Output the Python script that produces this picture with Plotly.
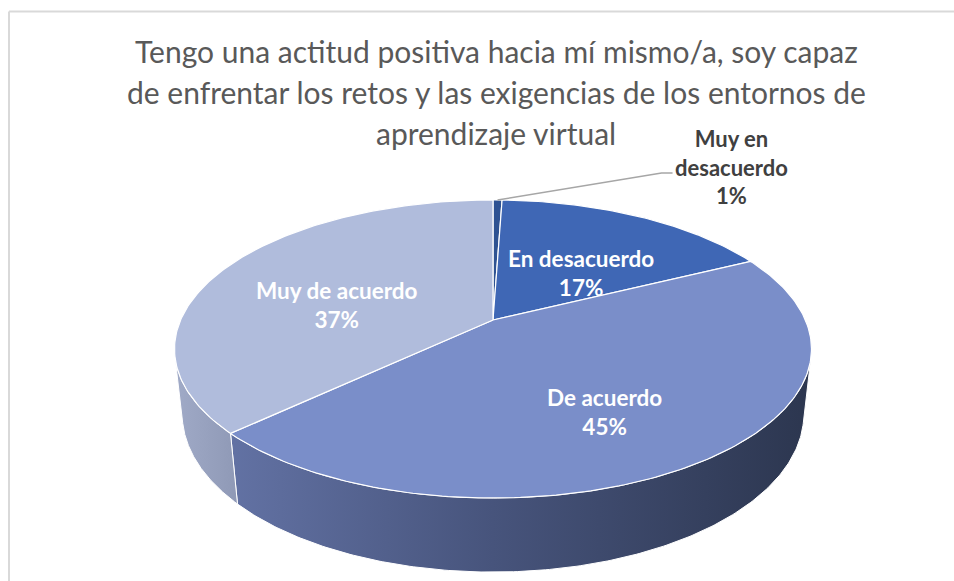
import numpy as np
import plotly.graph_objects as go

# ---------------- data ----------------
categories = ["Muy en desacuerdo", "En desacuerdo", "De acuerdo", "Muy de acuerdo"]
values = [1, 31, 82, 67]
top_colors = ["#2E5292", "#3F67B5", "#7A8EC9", "#B0BCDC"]
side_colors = [
    [[0, "#22406F"], [1, "#1A2F52"]],
    [[0, "#2F4E88"], [1, "#223A66"]],
    [[0, "#6878AC"], [0.5, "#47547C"], [1, "#2C364F"]],
    [[0, "#A0AAC7"], [0.11, "#8D97B4"], [1, "#4E566E"]],
]
label_colors = ["#404040", "white", "white", "white"]
title_lines = [
    "Tengo una actitud positiva hacia mí mismo/a, soy capaz",
    "de enfrentar los retos y las exigencias de los entornos de",
    "aprendizaje virtual",
]

# ---------------- 3D projection setup ----------------
W, H = 954, 581
CX, CY = 493, 320          # screen position of the pie centre
ELEV = np.arcsin(0.459)    # camera elevation
DIST = 4.565               # camera distance (in pie radii)
FOCAL = 1426.0             # focal length in px
THICK = 0.2365             # pie thickness (in pie radii)
ca, sa = np.cos(ELEV), np.sin(ELEV)


def project(x, y, z):
    depth = DIST + y * ca - z * sa
    up = y * sa + z * ca
    return CX + FOCAL * x / depth, CY - FOCAL * up / depth


def rim(theta, r=1.0, z=0.0):
    return project(r * np.sin(theta), r * np.cos(theta), z)


total = float(sum(values))
fracs = [v / total for v in values]
bounds = np.concatenate([[0], np.cumsum(fracs)]) * 2 * np.pi

# silhouette angles of the cylinder side
ys = -1.0 / (DIST * ca)
sil_lo, sil_hi = np.arccos(ys), 2 * np.pi - np.arccos(ys)

all_t = np.linspace(0, 2 * np.pi, 721)
xl, _ = rim(all_t)
x_left, x_right = float(xl.min()), float(xl.max())

fig = go.Figure()

# side faces
for i in range(len(values)):
    a0, a1 = bounds[i], bounds[i + 1]
    lo, hi = max(a0, sil_lo), min(a1, sil_hi)
    if hi <= lo:
        continue
    t = np.linspace(lo, hi, 200)
    xt, yt = rim(t)
    xb, yb = rim(t[::-1], z=-THICK)
    fig.add_trace(go.Scatter(
        x=np.concatenate([xt, xb, xt[:1]]),
        y=np.concatenate([yt, yb, yt[:1]]),
        mode="lines", fill="toself",
        line=dict(color="white", width=1),
        fillgradient=dict(type="horizontal", start=x_left, stop=x_right,
                          colorscale=side_colors[i]),
        hoverinfo="skip", showlegend=False))

# top faces
for i in range(len(values)):
    a0, a1 = bounds[i], bounds[i + 1]
    t = np.linspace(a0, a1, max(3, int(400 * fracs[i]) + 3))
    xt, yt = rim(t)
    fig.add_trace(go.Scatter(
        x=np.concatenate([[CX], xt, [CX]]),
        y=np.concatenate([[CY], yt, [CY]]),
        mode="lines", fill="toself", fillcolor=top_colors[i],
        line=dict(color="white", width=1.2),
        hoverinfo="skip", showlegend=False))

# labels
annotations = []
LABEL_FONT = dict(family="Lato", size=22.5, color="white")
for i in range(len(values)):
    mid = (bounds[i] + bounds[i + 1]) / 2
    pct = f"{round(fracs[i] * 100)}%"
    if fracs[i] < 0.03:
        # external label with leader line
        sx, sy = rim(mid)
        ex, ey = sx + 164, sy - 27
        fig.add_trace(go.Scatter(
            x=[sx, ex, ex + 11], y=[sy, ey, ey], mode="lines",
            line=dict(color="#A6A6A6", width=1.5),
            hoverinfo="skip", showlegend=False))
        words = categories[i].split(" ")
        txt = " ".join(words[:2]) + "<br>" + " ".join(words[2:]) + "<br>" + pct
        annotations.append(dict(
            x=ex + 70, y=ey - 6, xref="x", yref="y", text=f"<b>{txt}</b>",
            showarrow=False, align="center",
            font=dict(family="Lato", size=22, color=label_colors[i])))
    else:
        lx, ly = rim(mid, r=0.57, z=-0.06)
        annotations.append(dict(
            x=lx, y=ly, xref="x", yref="y",
            text=f"<b>{categories[i]}<br>{pct}</b>",
            showarrow=False, align="center",
            font=dict(LABEL_FONT, color=label_colors[i])))

# title lines
for k, line in enumerate(title_lines):
    annotations.append(dict(
        x=496, y=51 + 41 * k, xref="x", yref="y", text=line,
        showarrow=False, font=dict(family="Lato", size=30, color="#595959")))

fig.update_layout(
    width=W, height=H,
    margin=dict(l=0, r=0, t=0, b=0),
    paper_bgcolor="white", plot_bgcolor="white",
    xaxis=dict(range=[0, W], visible=False, fixedrange=True),
    yaxis=dict(range=[H, 0], visible=False, fixedrange=True),
    annotations=annotations,
    shapes=[
        dict(type="line", xref="x", yref="y", x0=9, y0=11.5, x1=W + 5, y1=11.5,
             line=dict(color="#D9D9D9", width=2)),
        dict(type="line", xref="x", yref="y", x0=9, y0=11.5, x1=9, y1=H + 5,
             line=dict(color="#D9D9D9", width=2)),
    ],
)

fig.write_html("out.html", config={"displayModeBar": False},
               post_script="document.body.style.margin='0';document.body.style.overflow='hidden';")
